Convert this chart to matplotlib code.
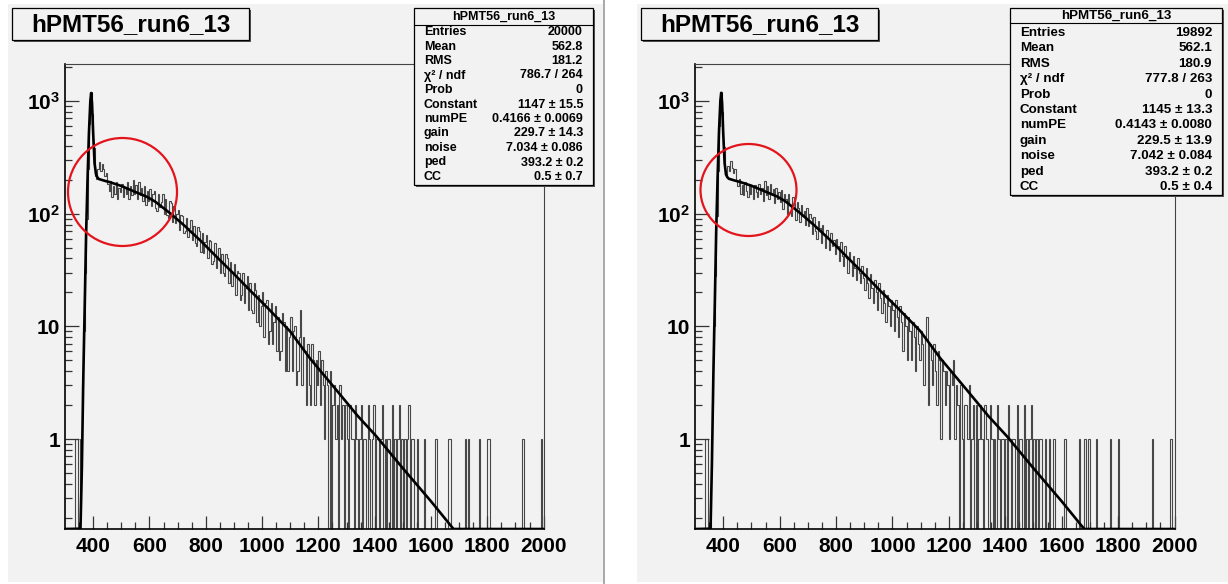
import numpy as np
import matplotlib
matplotlib.use("Agg")
import matplotlib.pyplot as plt
from matplotlib.patches import Rectangle, Ellipse
from matplotlib.lines import Line2D
from matplotlib.ticker import FixedLocator, FixedFormatter, NullFormatter

plt.rcParams['font.family'] = ['Liberation Sans', 'DejaVu Sans']
plt.rcParams['font.weight'] = 'bold'
plt.rcParams['mathtext.fontset'] = 'custom'
plt.rcParams['mathtext.rm'] = 'Liberation Sans:bold'
plt.rcParams['mathtext.it'] = 'Liberation Sans:bold'
plt.rcParams['mathtext.bf'] = 'Liberation Sans:bold'

# histogram binning: 300..2000, width 5
bin_lo, bin_hi, bin_w = 300, 2000, 5
edges = np.arange(bin_lo, bin_hi + bin_w, bin_w)

hist_name = "hPMT56_run6_13"

counts_a = [
    0, 0, 0, 0, 0, 0, 0, 1, 1, 0, 0, 1, 3, 9, 30, 90, 250, 620, 1190, 760,
    380, 215, 205, 250, 285, 240, 275, 250, 215, 230, 185, 160, 195, 140, 175, 150, 190, 135, 170, 155,
    185, 140, 170, 150, 190, 135, 175, 145, 200, 150, 180, 135, 190, 145, 170, 130, 175, 120, 160, 130,
    165, 118, 150, 158, 112, 105, 150, 115, 128, 148, 100, 135, 98, 92, 130, 125, 85, 118, 82, 100,
    108, 72, 98, 95, 68, 70, 92, 62, 75, 88, 58, 78, 55, 52, 76, 70, 46, 68, 45, 56,
    64, 40, 58, 57, 36, 38, 55, 33, 41, 50, 30, 44, 30, 28, 44, 40, 24, 37, 23, 30,
    36, 19, 31, 30, 17, 19, 30, 16, 22, 28, 14, 24, 14, 13, 24, 21, 11, 19, 10, 15,
    20, 8, 16, 17, 7, 9, 16, 7, 11, 15, 6, 12, 5, 6, 13, 11, 4, 10, 4, 8,
    12, 4, 9, 10, 3, 4, 8, 14, 3, 8, 6, 2, 7, 3, 2, 7, 5, 2, 5, 3,
    6, 2, 5, 3, 1, 4, 3, 0, 4, 0, 2, 3, 1, 2, 0, 3, 1, 2, 0, 2,
    1, 0, 2, 1, 1, 0, 2, 1, 0, 1, 2, 0, 1, 1, 0, 2, 1, 0, 1, 2,
    0, 1, 1, 0, 1, 2, 0, 1, 0, 1, 1, 0, 2, 0, 1, 0, 1, 2, 0, 1,
    0, 1, 0, 1, 2, 0, 1, 1, 0, 0, 1, 0, 0, 0, 0, 1, 0, 0, 0, 0,
    0, 0, 0, 1, 0, 0, 0, 0, 0, 0, 0, 0, 1, 1, 0, 0, 0, 0, 0, 0,
    0, 0, 0, 0, 1, 0, 1, 0, 0, 0, 0, 0, 0, 0, 1, 0, 0, 0, 0, 0,
    1, 1, 0, 0, 0, 0, 0, 0, 0, 0, 0, 0, 0, 0, 0, 0, 0, 0, 0, 0,
    0, 0, 0, 0, 0, 1, 0, 0, 0, 0, 0, 0, 0, 0, 0, 0, 0, 0, 1, 0,
]

counts_b = [
    0, 0, 0, 0, 0, 0, 0, 1, 1, 0, 0, 1, 2, 10, 28, 95, 240, 600, 1200, 790,
    390, 225, 215, 265, 240, 295, 255, 230, 250, 200, 175, 205, 150, 180, 145, 190, 160, 140, 185, 150,
    175, 135, 180, 155, 140, 185, 150, 170, 130, 195, 145, 175, 135, 185, 150, 165, 125, 170, 135, 155,
    128, 162, 110, 150, 135, 100, 148, 120, 96, 140, 125, 88, 128, 112, 85, 120, 95, 105, 80, 112,
    78, 100, 92, 66, 94, 70, 60, 86, 74, 55, 80, 66, 50, 72, 60, 48, 68, 52, 58, 44,
    60, 52, 38, 56, 42, 34, 52, 40, 30, 46, 38, 28, 42, 33, 26, 40, 30, 24, 34, 27,
    21, 33, 24, 18, 29, 22, 16, 26, 20, 14, 24, 18, 13, 21, 16, 11, 19, 15, 10, 17,
    14, 9, 17, 12, 8, 15, 11, 6, 13, 10, 5, 12, 9, 5, 11, 8, 4, 10, 7, 5,
    9, 7, 3, 8, 12, 2, 7, 5, 3, 7, 4, 2, 6, 5, 1, 5, 4, 2, 4, 3,
    1, 4, 3, 5, 1, 3, 2, 0, 3, 1, 0, 2, 2, 1, 3, 0, 1, 2, 0, 2,
    0, 1, 2, 1, 0, 2, 1, 1, 0, 2, 1, 0, 1, 0, 2, 1, 0, 1, 1, 0,
    1, 0, 2, 1, 0, 1, 1, 0, 2, 0, 1, 1, 0, 2, 0, 1, 0, 1, 2, 0,
    1, 0, 1, 0, 1, 1, 0, 0, 1, 0, 0, 1, 0, 0, 1, 0, 0, 0, 0, 0,
    0, 0, 1, 0, 0, 0, 0, 0, 0, 0, 0, 0, 1, 0, 0, 0, 1, 0, 0, 1,
    0, 0, 0, 0, 1, 0, 0, 0, 0, 0, 0, 0, 0, 0, 1, 0, 0, 0, 0, 0,
    1, 0, 0, 0, 0, 0, 0, 0, 0, 0, 0, 0, 0, 0, 0, 0, 0, 0, 0, 0,
    0, 0, 0, 0, 1, 0, 0, 0, 0, 0, 0, 0, 0, 0, 0, 0, 0, 1, 0, 0,
]

# fitted PMT response
fit_x = [300, 355, 360, 365, 370, 375, 380, 385, 390, 393, 396, 400, 405, 410, 415, 420,
         440, 460, 500, 531, 560, 591, 620, 673, 720, 780, 840, 897, 960, 1017, 1100,
         1170, 1265, 1340, 1407, 1500, 1600, 1680, 1700, 2000]
fit_y_a = [0.1, 0.16, 0.56, 3.5, 15, 67, 200, 520, 1000, 1175, 950, 520, 280, 225, 210, 203,
           196, 190, 176, 163, 152, 141, 128, 101, 80, 58, 41, 29.7, 20.5, 14.8, 9.0,
           5.2, 2.7, 1.6, 1.05, 0.55, 0.28, 0.158, 0.1, 0.1]
fit_y_b = [0.1, 0.16, 0.6, 3.6, 15, 68, 205, 530, 1010, 1180, 960, 520, 280, 222, 210, 204,
           197, 191, 177, 164, 153, 142, 129, 101, 80, 58, 41, 29.5, 20.3, 14.7, 9.0,
           5.2, 2.7, 1.6, 1.05, 0.55, 0.28, 0.158, 0.1, 0.1]

stats_a = [("Entries", "20000"), ("Mean", "562.8"), ("RMS", "181.2"),
           ("χ² / ndf", "786.7 / 264"), ("Prob", "0"),
           ("Constant", "1147 ± 15.5"), ("numPE", "0.4166 ± 0.0069"),
           ("gain", "229.7 ± 14.3"), ("noise", "7.034 ± 0.086"),
           ("ped", "393.2 ± 0.2"), ("CC", "0.5 ± 0.7")]
stats_b = [("Entries", "19892"), ("Mean", "562.1"), ("RMS", "180.9"),
           ("χ² / ndf", "777.8 / 263"), ("Prob", "0"),
           ("Constant", "1145 ± 13.3"), ("numPE", "0.4143 ± 0.0080"),
           ("gain", "229.5 ± 13.9"), ("noise", "7.042 ± 0.084"),
           ("ped", "393.2 ± 0.2"), ("CC", "0.5 ± 0.4")]

x_major = [400, 600, 800, 1000, 1200, 1400, 1600, 1800, 2000]
x_minor = list(range(350, 2000, 50))
y_major = [1, 10, 100, 1000]
y_labels = ["1", "10", r"$10^{2}$", r"$10^{3}$"]
y_minor = [m * 10.0 ** e for e in range(-1, 4) for m in range(2, 10)]
xlim = (300, 2000)
ylim = (0.159, 2128)

W, H = 1228, 584
BG = '#f2f2f2'

fig = plt.figure(figsize=(W / 100, H / 100), dpi=100)
fig.patch.set_facecolor('white')


def fx(x):
    return x / W


def fy(y):
    return 1 - y / H


def frect(x0, y0, x1, y1, **kw):
    r = Rectangle((fx(x0), fy(y1)), (x1 - x0) / W, (y1 - y0) / H,
                  transform=fig.transFigure, **kw)
    fig.patches.append(r)
    return r


# pads
frect(8, 4, 603, 582, fc=BG, ec='none', zorder=-10)
frect(637, 4, 1228, 582, fc=BG, ec='none', zorder=-10)
fig.lines.append(Line2D([fx(604), fx(604)], [fy(0), fy(584)], transform=fig.transFigure,
                        color='#9a9a9a', lw=1.2, zorder=-9))


def draw_panel(x0, x1, counts, fit_y, stats, title_box, stats_box, circle, stats_fs):
    ax = fig.add_axes([fx(x0), fy(529), (x1 - x0) / W, (529 - 64) / H])
    ax.set_facecolor(BG)
    ax.set_yscale('log')
    c = np.array(counts, dtype=float)
    ax.stairs(np.where(c > 0, c, 1e-3), edges, color='#484848', lw=0.8, baseline=None)
    ax.plot(fit_x, np.clip(fit_y, ylim[0], None), color='black', lw=1.9,
            solid_joinstyle='round', zorder=3)
    ax.set_xlim(*xlim)
    ax.set_ylim(*ylim)

    ax.xaxis.set_major_locator(FixedLocator(x_major))
    ax.xaxis.set_minor_locator(FixedLocator(x_minor))
    ax.yaxis.set_major_locator(FixedLocator(y_major))
    ax.yaxis.set_major_formatter(FixedFormatter(y_labels))
    ax.yaxis.set_minor_locator(FixedLocator(y_minor))
    ax.yaxis.set_minor_formatter(NullFormatter())
    ax.tick_params(axis='x', which='major', direction='in', length=9.5, width=0.9,
                   labelsize=15, pad=5.5, top=False, color='#333333')
    ax.tick_params(axis='x', which='minor', direction='in', length=5, width=0.9,
                   top=False, color='#333333')
    ax.tick_params(axis='y', which='major', direction='in', length=10, width=0.9,
                   labelsize=15, pad=3.5, right=False, color='#333333')
    ax.tick_params(axis='y', which='minor', direction='in', length=5, width=0.9,
                   right=False, color='#333333')
    for lab in ax.get_xticklabels() + ax.get_yticklabels():
        lab.set_fontweight('bold')
    for s in ('left', 'bottom'):
        ax.spines[s].set_color('black')
        ax.spines[s].set_linewidth(1.2)
    for s in ('top', 'right'):
        ax.spines[s].set_color('#444444')
        ax.spines[s].set_linewidth(0.8)

    # title box
    tx0, ty0, tx1, ty1 = title_box
    frect(tx0 + 2, ty0 + 2, tx1 + 2, ty1 + 2, fc='#555555', ec='none', zorder=5)
    frect(tx0, ty0, tx1, ty1, fc=BG, ec='black', lw=0.9, zorder=6)
    fig.text(fx((tx0 + tx1) / 2), fy((ty0 + ty1) / 2 + 1), hist_name, ha='center',
             va='center', fontsize=17.5, fontweight='bold', zorder=7)

    # stats box
    sx0, sy0, sx1, sy1, sep, row0, dy = stats_box
    frect(sx0 + 2, sy0 + 2, sx1 + 2, sy1 + 2, fc='#555555', ec='none', zorder=5)
    frect(sx0, sy0, sx1, sy1, fc=BG, ec='black', lw=0.9, zorder=6)
    fig.lines.append(Line2D([fx(sx0), fx(sx1)], [fy(sep), fy(sep)], transform=fig.transFigure,
                            color='black', lw=0.8, zorder=7))
    fig.text(fx((sx0 + sx1) / 2), fy((sy0 + sep) / 2 + 0.5), hist_name, ha='center',
             va='center', fontsize=stats_fs, fontweight='bold', zorder=8)
    for i, (k, v) in enumerate(stats):
        yy = fy(row0 + i * dy)
        fig.text(fx(sx0 + 10), yy, k, ha='left', va='center', fontsize=stats_fs,
                 fontweight='bold', zorder=8)
        fig.text(fx(sx1 - 10), yy, v, ha='right', va='center', fontsize=stats_fs,
                 fontweight='bold', zorder=8)

    cx, cy, cw, ch = circle
    fig.patches.append(Ellipse((fx(cx), fy(cy)), cw / W, ch / H, transform=fig.transFigure,
                               fill=False, ec='#e3141c', lw=1.6, zorder=9))
    return ax


draw_panel(65, 543.6, counts_a, fit_y_a, stats_a,
           (12, 8, 249, 40), (414, 8, 593, 185, 25, 32, 14.5), (122.5, 192, 109, 108), 9.0)
draw_panel(695, 1174.5, counts_b, fit_y_b, stats_b,
           (641, 8, 878, 40), (1010, 8, 1222, 195, 23, 33, 15.4), (748.5, 190, 96, 92), 9.6)

fig.savefig("out.png", dpi=100, facecolor=fig.get_facecolor())
